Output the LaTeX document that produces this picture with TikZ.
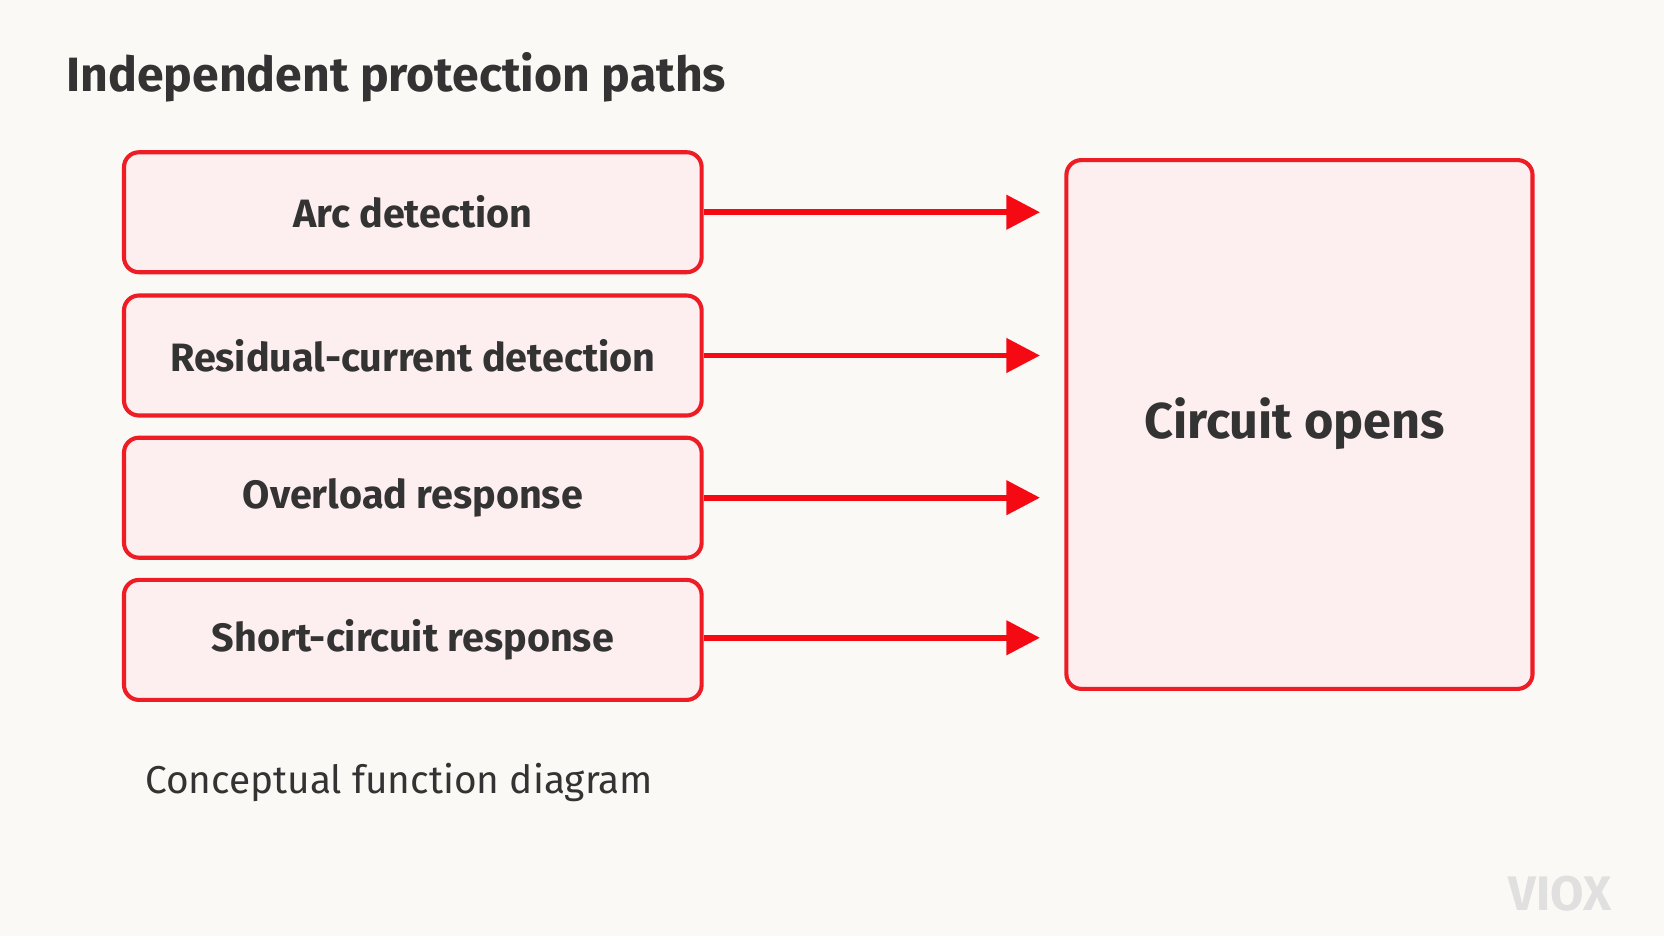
\documentclass[tikz,border=0pt]{standalone}
\usepackage{fontspec}
\setmainfont{Fira Sans}
\usetikzlibrary{arrows.meta}
\definecolor{bg}{HTML}{FBF9F5}
\definecolor{bfill}{HTML}{FDEEEF}
\definecolor{bline}{HTML}{EE1C25}
\definecolor{arr}{HTML}{F50A14}
\definecolor{txt}{HTML}{333333}
\begin{document}
\begin{tikzpicture}[x=0.01cm,y=-0.01cm,
  box/.style={draw=bline,fill=bfill,line width=1.1pt,rounded corners=4pt,inner sep=0pt},
  lbl/.style={font=\bfseries\fontsize{10.6}{12}\selectfont,text=txt},
  con/.style={draw=arr,line width=1.5pt,-{Triangle[length=9pt,width=9pt]}}]
\fill[bg] (0,0) rectangle (1568,882);
\useasboundingbox (0,0) rectangle (1568,882);
\node[anchor=west,inner sep=0pt,font=\bfseries\fontsize{12.9}{14}\selectfont,text=txt] (title) at (62,73) {Independent protection paths};
\node[box,minimum width=5.44cm,minimum height=1.13cm,label={[lbl]center:Arc detection}] (a) at (389,200) {};
\node[box,minimum width=5.44cm,minimum height=1.13cm,label={[lbl]center:Residual-current detection}] (b) at (389,335) {};
\node[box,minimum width=5.44cm,minimum height=1.13cm,label={[lbl]center:Overload response}] (c) at (389,469) {};
\node[box,minimum width=5.44cm,minimum height=1.13cm,label={[lbl]center:Short-circuit response}] (d) at (389,603) {};
\node[box,minimum width=4.39cm,minimum height=4.98cm] (r) at (1224.5,400) {};
\node[font=\bfseries\fontsize{13.5}{16}\selectfont,text=txt] (rt) at (1220,399) {Circuit opens};
\coordinate (ea) at (980,200);
\coordinate (eb) at (980,335);
\coordinate (ec) at (980,469);
\coordinate (ed) at (980,601);
\draw[con] (a.east) -- (ea);
\draw[con] (b.east) -- (eb);
\draw[con] (c.east) -- (ec);
\draw[con] (d.east) ++(0,-2) -- (ed);
\node[anchor=west,inner sep=0pt,font=\fontsize{10.4}{13}\selectfont,text=txt] (cap) at (136,737) {Conceptual function diagram};
\node[font=\bfseries\fontsize{13}{15}\selectfont,text=black!12] (wm) at (1470,842) {VIOX};
\end{tikzpicture}
\end{document}
